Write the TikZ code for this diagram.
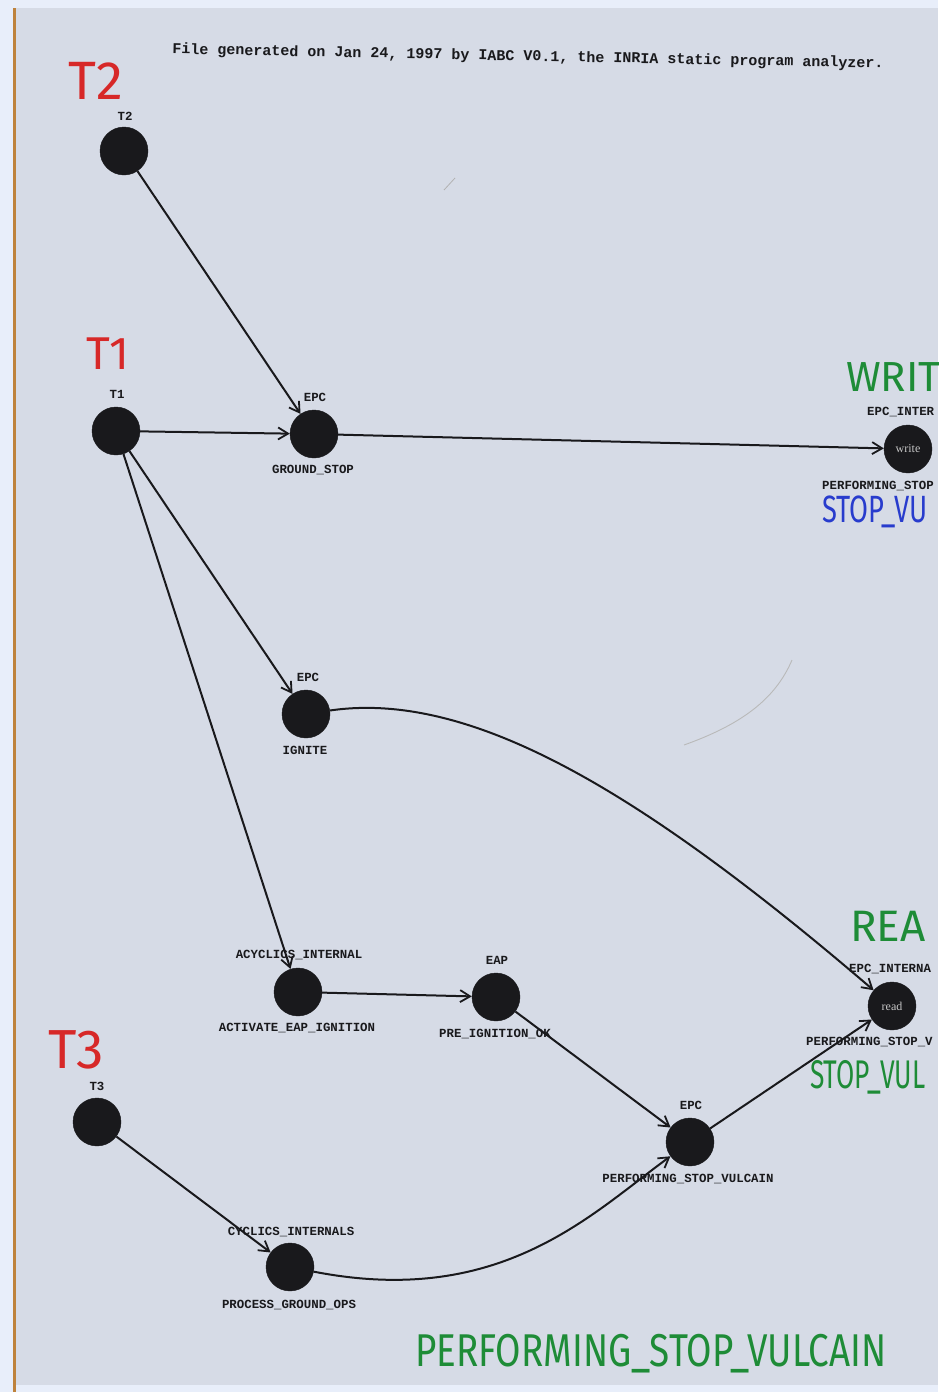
\documentclass[tikz,border=0pt]{standalone}
\usepackage{fontspec}
\setmainfont{Liberation Serif}
\newfontfamily\courf{Liberation Mono}
\newfontfamily\handf{Fira Sans}
\usetikzlibrary{arrows.meta}
\definecolor{paper}{RGB}{214,219,230}
\definecolor{screen}{RGB}{232,238,250}
\definecolor{edgebrown}{RGB}{190,130,60}
\definecolor{hred}{RGB}{215,40,40}
\definecolor{hgreen}{RGB}{30,140,55}
\definecolor{hblue}{RGB}{40,60,205}
\definecolor{ink}{RGB}{25,25,28}
\begin{document}
\begin{tikzpicture}[x=1pt,y=-1pt,
  dot/.style={circle,fill=ink,draw=ink,minimum size=48pt,inner sep=0pt,
    font=\fontsize{12}{12}\selectfont,text=gray!45},
  lab/.style={font=\courf\bfseries\fontsize{12.4}{14}\selectfont,text=ink,inner sep=0pt},
  conn/.style={line width=2pt,draw=ink,-{Straight Barb[length=10pt,width=12pt,line width=1.8pt]}},
  hand/.style={inner sep=0pt,anchor=north west,text depth=0pt}
]
\useasboundingbox (0,0) rectangle (938,1392);
\clip (0,0) rectangle (938,1392);
% paper and surroundings
\fill[screen] (0,0) rectangle (938,1392);
\fill[paper] (14,8) rectangle (938,1385);
\draw[edgebrown,line width=3pt] (14,8) -- (14,1392);

% header
\node[font=\courf\bfseries\fontsize{15}{17}\selectfont,text=ink,rotate=-1.15,inner sep=0pt] (hdr) at (528,57)
  {File generated on Jan 24, 1997 by IABC V0.1, the INRIA static program analyzer.};

% nodes
\node[dot] (t2) at (124,151) {};
\node[lab] (t2a) at (125,116) {T2};
\node[dot] (t1) at (116,431) {};
\node[lab] (t1a) at (117,394) {T1};
\node[dot] (gs) at (314,434) {};
\node[lab] (gsa) at (315,397) {EPC};
\node[lab] (gsb) at (313,470) {GROUND\_STOP};
\node[dot] (wr) at (908,449) {write};
\node[lab,anchor=west] (wra) at (867,412) {EPC\_INTER};
\node[lab,anchor=west] (wrb) at (822,486) {PERFORMING\_STOP};
\node[dot] (ig) at (306,714) {};
\node[lab] (iga) at (308,677) {EPC};
\node[lab] (igb) at (305,750) {IGNITE};
\node[dot] (act) at (298,992) {};
\node[lab] (acta) at (299,955) {ACYCLICS\_INTERNAL};
\node[lab] (actb) at (297,1028) {ACTIVATE\_EAP\_IGNITION};
\node[dot] (pre) at (496,997) {};
\node[lab] (prea) at (497,960) {EAP};
\node[lab] (preb) at (495,1034) {PRE\_IGNITION\_OK};
\node[dot] (perf) at (690,1142) {};
\node[lab] (perfa) at (691,1105) {EPC};
\node[lab] (perfb) at (688,1179) {PERFORMING\_STOP\_VULCAIN};
\node[dot] (rd) at (892,1006) {read};
\node[lab,anchor=west] (rda) at (849,969) {EPC\_INTERNA};
\node[lab,anchor=west] (rdb) at (806,1042) {PERFORMING\_STOP\_V};
\node[dot] (t3) at (97,1122) {};
\node[lab] (t3a) at (97,1086) {T3};
\node[dot] (pgo) at (290,1267) {};
\node[lab] (pgoa) at (291,1232) {CYCLICS\_INTERNALS};
\node[lab] (pgob) at (289,1305) {PROCESS\_GROUND\_OPS};

% connectors
\draw[conn] (t2) -- (gs);
\draw[conn] (t1) -- (gs);
\draw[conn] (gs) -- (wr);
\draw[conn] (t1) -- (ig);
\draw[conn] (t1) -- (act);
\draw[conn] (ig) .. controls (470,690) and (640,790) .. (rd);
\draw[conn] (act) -- (pre);
\draw[conn] (pre) -- (perf);
\draw[conn] (perf) -- (rd);
\draw[conn] (t3) -- (pgo);
\draw[conn] (pgo) .. controls (500,1308) and (590,1215) .. (perf);

% pencil marks
\draw[gray!55,line width=0.9pt] (684,745) .. controls (740,725) and (775,700) .. (792,660);
\draw[gray!60,line width=0.8pt] (444,190) -- (455,178);

% handwritten annotations
\node[hand,text=hred,font=\handf\fontsize{54}{54}\selectfont] (hT2) at (68,62) {T2};
\node[hand,text=hred,font=\handf\fontsize{46}{46}\selectfont] (hT1) at (86,338) {T1};
\node[hand,text=hred,font=\handf\fontsize{55}{55}\selectfont] (hT3) at (48,1030) {T3};
\node[hand,text=hgreen,font=\handf\fontsize{42}{42}\selectfont] (hW) at (846,362) {WRIT};
\node[hand,text=hblue,font=\handf\fontsize{38}{38}\selectfont,xscale=0.72] (hS1) at (822,496) {STOP\_VU};
\node[hand,text=hgreen,font=\handf\fontsize{44}{44}\selectfont] (hR) at (850,911) {REA};
\node[hand,text=hgreen,font=\handf\fontsize{40}{40}\selectfont,xscale=0.66] (hS2) at (810,1060) {STOP\_VUL};
\node[hand,text=hgreen,font=\handf\fontsize{46}{46}\selectfont,xscale=0.8] (hP) at (415,1334) {PERFORMING\_STOP\_VULCAIN};
\end{tikzpicture}
\end{document}
